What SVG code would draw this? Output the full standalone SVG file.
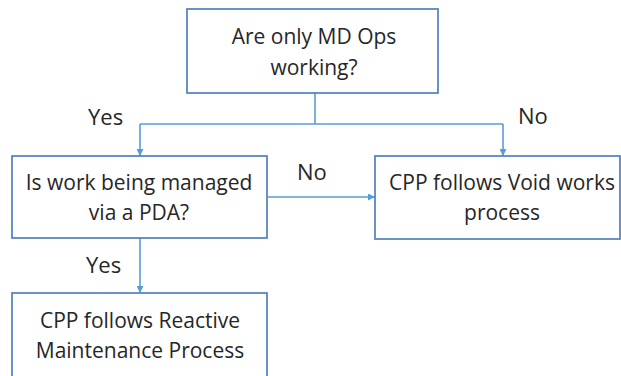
<svg xmlns="http://www.w3.org/2000/svg" width="621" height="376" viewBox="0 0 621 376">
<defs>
<style>
.box{fill:#ffffff;stroke:#4f81bd;stroke-width:1.7}
.t{font-family:"Open Sans","Liberation Sans",sans-serif;font-size:21px;fill:#262626;text-anchor:middle}
.lbl{font-family:"Open Sans","Liberation Sans",sans-serif;font-size:22px;fill:#262626}
.ln{fill:none;stroke:#5b9bd5;stroke-width:1.6}
</style>
<marker id="ah" viewBox="0 0 10 10" refX="10" refY="5" markerWidth="7" markerHeight="7" markerUnits="userSpaceOnUse" orient="auto">
<path d="M0,0 L10,5 L0,10 Z" fill="#5b9bd5"/>
</marker>
</defs>
<rect width="621" height="376" fill="#ffffff"/>
<g id="connectors">
<line class="ln" x1="315" y1="93" x2="315" y2="124"/>
<line class="ln" x1="140" y1="124" x2="503" y2="124"/>
<line class="ln" x1="140" y1="124" x2="140" y2="156" marker-end="url(#ah)"/>
<line class="ln" x1="503" y1="124" x2="503" y2="156" marker-end="url(#ah)"/>
<line class="ln" x1="268" y1="197" x2="375" y2="197" marker-end="url(#ah)"/>
<line class="ln" x1="140" y1="238" x2="140" y2="293" marker-end="url(#ah)"/>
</g>
<g id="labels">
<text class="lbl" x="88" y="125">Yes</text>
<text class="lbl" x="518" y="124">No</text>
<text class="lbl" x="297" y="180">No</text>
<text class="lbl" x="86" y="273">Yes</text>
</g>
<g id="q1">
<rect class="box" x="187" y="9" width="251" height="84"/>
<text class="t" x="314" y="44">Are only MD Ops</text>
<text class="t" x="314" y="75">working?</text>
</g>
<g id="q2">
<rect class="box" x="12" y="156" width="255" height="82"/>
<text class="t" x="139" y="190">Is work being managed</text>
<text class="t" x="139" y="220">via a PDA?</text>
</g>
<g id="void">
<rect class="box" x="375" y="156" width="245" height="83"/>
<text class="t" x="502" y="190">CPP follows Void works</text>
<text class="t" x="502" y="220">process</text>
</g>
<g id="reactive">
<rect class="box" x="12" y="293" width="255" height="90"/>
<text class="t" x="140" y="328">CPP follows Reactive</text>
<text class="t" x="140" y="358">Maintenance Process</text>
</g>
</svg>
